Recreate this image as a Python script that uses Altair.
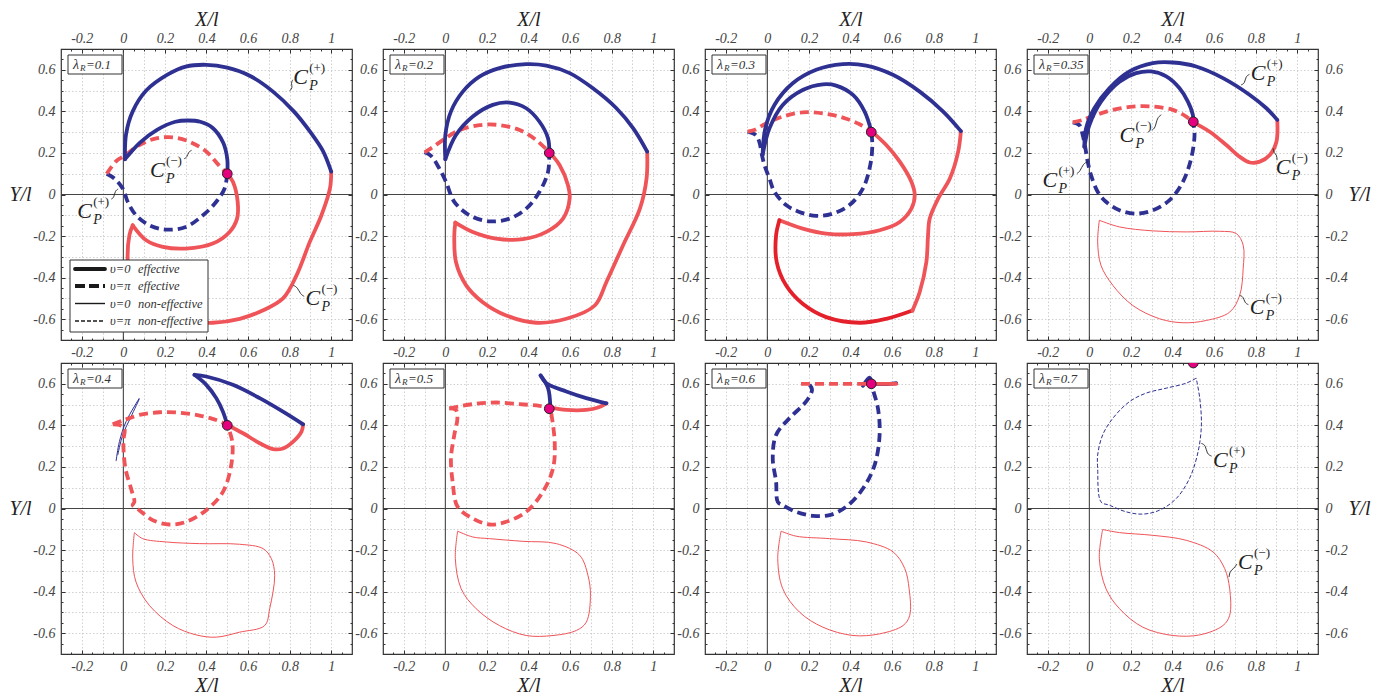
import altair as alt
import pandas as pd

SERIF = "Liberation Serif"
BLUE = "#2e3192"
RED = "#ef5459"
RED_BRIGHT = "#e4202a"
PINK = "#e5007d"
INK = "#222222"

X_DOMAIN = [-0.3, 1.1]
Y_DOMAIN = [-0.7, 0.7]
X_MAJOR = [-0.2, 0.0, 0.2, 0.4, 0.6, 0.8, 1.0]
Y_MAJOR = [-0.6, -0.4, -0.2, 0.0, 0.2, 0.4, 0.6]
X_MINOR = [-0.25, -0.2, -0.15, -0.1, -0.05, 0.0, 0.05, 0.1, 0.15, 0.2, 0.25, 0.3, 0.35, 0.4,
           0.45, 0.5, 0.55, 0.6, 0.65, 0.7, 0.75, 0.8, 0.85, 0.9, 0.95, 1.0, 1.05]
Y_MINOR = [-0.65, -0.6, -0.55, -0.5, -0.45, -0.4, -0.35, -0.3, -0.25, -0.2, -0.15, -0.1, -0.05, 0.0,
           0.05, 0.1, 0.15, 0.2, 0.25, 0.3, 0.35, 0.4, 0.45, 0.5, 0.55, 0.6, 0.65]
X_GRID = [-0.2, -0.1, 0.1, 0.2, 0.3, 0.4, 0.5, 0.6, 0.7, 0.8, 0.9, 1.0]
Y_GRID = [-0.6, -0.5, -0.4, -0.3, -0.2, -0.1, 0.1, 0.2, 0.3, 0.4, 0.5, 0.6]

LAMBDAS = ["0.1", "0.2", "0.3", "0.35", "0.4", "0.5", "0.6", "0.7"]
MARK_X = [0.5, 0.5, 0.5, 0.5, 0.5, 0.5, 0.5, 0.5]
MARK_Y = [0.1, 0.2, 0.3, 0.35, 0.4, 0.48, 0.6, 0.7]

# ---------------- panel 1 (lambda_R = 0.1)
P1_BOUT_X = [0.008, 0.013, 0.045, 0.11, 0.21, 0.30, 0.40, 0.50, 0.61, 0.72, 0.82, 0.90, 0.96, 1.0]
P1_BOUT_Y = [0.17, 0.29, 0.40, 0.50, 0.575, 0.615, 0.624, 0.61, 0.57, 0.495, 0.40, 0.30, 0.21, 0.11]
P1_BIN_X = [0.008, 0.08, 0.16, 0.25, 0.31, 0.37, 0.43, 0.48, 0.50, 0.50]
P1_BIN_Y = [0.17, 0.25, 0.31, 0.35, 0.356, 0.35, 0.32, 0.25, 0.17, 0.10]
P1_RDASH_X = [-0.08, -0.035, 0.005, 0.077, 0.158, 0.238, 0.318, 0.40, 0.46, 0.50]
P1_RDASH_Y = [0.10, 0.16, 0.186, 0.238, 0.27, 0.275, 0.254, 0.206, 0.14, 0.10]
P1_BDASH_X = [-0.08, -0.043, -0.003, 0.021, 0.061, 0.125, 0.206, 0.30, 0.383, 0.447, 0.487, 0.50]
P1_BDASH_Y = [0.10, 0.077, 0.029, -0.035, -0.10, -0.148, -0.169, -0.156, -0.10, -0.035, 0.029, 0.10]
P1_RA_X = [0.50, 0.527, 0.55, 0.547, 0.511, 0.43, 0.30, 0.19, 0.11, 0.045]
P1_RA_Y = [0.10, 0.061, -0.035, -0.116, -0.18, -0.236, -0.26, -0.252, -0.22, -0.148]
P1_RB_X = [0.045, 0.029, 0.021, 0.037, 0.093, 0.206, 0.334, 0.43, 0.56, 0.67, 0.768, 0.833, 0.897, 0.953, 0.994, 1.0]
P1_RB_Y = [-0.148, -0.196, -0.325, -0.437, -0.518, -0.582, -0.614, -0.617, -0.598, -0.558, -0.50, -0.389, -0.228, -0.10, 0.029, 0.11]

# ---------------- panel 2 (0.2)
P2_BOUT_X = [0.0, 0.0, 0.027, 0.084, 0.164, 0.26, 0.389, 0.486, 0.598, 0.71, 0.823, 0.904, 0.971]
P2_BOUT_Y = [0.17, 0.286, 0.40, 0.495, 0.567, 0.608, 0.627, 0.62, 0.584, 0.511, 0.415, 0.318, 0.206]
P2_BIN_X = [0.0, 0.051, 0.132, 0.228, 0.309, 0.389, 0.453, 0.494, 0.50]
P2_BIN_Y = [0.17, 0.286, 0.375, 0.431, 0.442, 0.415, 0.35, 0.27, 0.203]
P2_RDASH_X = [-0.10, -0.069, 0.0, 0.068, 0.164, 0.26, 0.357, 0.437, 0.50]
P2_RDASH_Y = [0.203, 0.222, 0.27, 0.31, 0.334, 0.334, 0.31, 0.262, 0.203]
P2_BDASH_X = [-0.10, -0.069, -0.029, 0.003, 0.043, 0.116, 0.212, 0.309, 0.389, 0.453, 0.494, 0.50]
P2_BDASH_Y = [0.203, 0.186, 0.125, 0.061, -0.035, -0.10, -0.129, -0.116, -0.068, 0.013, 0.109, 0.203]
P2_RA_X = [0.50, 0.55, 0.59, 0.598, 0.566, 0.486, 0.373, 0.244, 0.132, 0.048]
P2_RA_Y = [0.203, 0.141, 0.045, -0.019, -0.116, -0.18, -0.215, -0.212, -0.18, -0.135]
P2_RB_X = [0.048, 0.043, 0.051, 0.10, 0.18, 0.293, 0.437, 0.582, 0.719, 0.775, 0.855, 0.936, 0.968, 0.971]
P2_RB_Y = [-0.135, -0.196, -0.325, -0.437, -0.518, -0.582, -0.617, -0.598, -0.534, -0.421, -0.244, -0.068, 0.077, 0.206]

# ---------------- panel 3 (0.3)
P3_BOUT_X = [-0.023, -0.01, 0.034, 0.122, 0.235, 0.363, 0.476, 0.604, 0.733, 0.846, 0.931]
P3_BOUT_Y = [0.19, 0.318, 0.431, 0.535, 0.60, 0.627, 0.62, 0.576, 0.495, 0.399, 0.305]
P3_BIN_X = [-0.023, 0.01, 0.074, 0.17, 0.267, 0.331, 0.412, 0.468, 0.50]
P3_BIN_Y = [0.19, 0.318, 0.431, 0.503, 0.53, 0.524, 0.479, 0.399, 0.305]
P3_BDASH_X = [-0.095, -0.055, -0.039, -0.026, -0.014, 0.01, 0.034, 0.09, 0.154, 0.235, 0.315, 0.395, 0.46, 0.495, 0.505, 0.50]
P3_BDASH_Y = [0.302, 0.286, 0.254, 0.19, 0.141, 0.077, 0.013, -0.051, -0.084, -0.103, -0.092, -0.051, 0.029, 0.141, 0.238, 0.305]
P3_RDASH_X = [-0.095, -0.063, -0.006, 0.074, 0.17, 0.267, 0.363, 0.444, 0.50]
P3_RDASH_Y = [0.302, 0.31, 0.342, 0.375, 0.395, 0.39, 0.37, 0.338, 0.305]
P3_RA_X = [0.50, 0.572, 0.637, 0.693, 0.709, 0.693, 0.637, 0.54, 0.412, 0.283, 0.17, 0.058]
P3_RA_Y = [0.305, 0.238, 0.158, 0.061, -0.003, -0.068, -0.132, -0.172, -0.191, -0.188, -0.164, -0.124]
P3_RB_X = [0.058, 0.042, 0.045, 0.09, 0.17, 0.283, 0.444, 0.572, 0.698]
P3_RB_Y = [-0.124, -0.196, -0.325, -0.437, -0.526, -0.59, -0.617, -0.598, -0.558]
P3_RC_X = [0.698, 0.733, 0.765, 0.773, 0.781, 0.822, 0.878, 0.918, 0.931]
P3_RC_Y = [-0.558, -0.469, -0.325, -0.196, -0.116, -0.019, 0.077, 0.206, 0.305]

# ---------------- panel 4 (0.35)
P4_BOUT_X = [-0.024, -0.016, 0.024, 0.096, 0.193, 0.305, 0.402, 0.514, 0.643, 0.772, 0.852, 0.904]
P4_BOUT_Y = [0.23, 0.318, 0.415, 0.511, 0.592, 0.632, 0.635, 0.616, 0.56, 0.479, 0.415, 0.359]
P4_BIN_X = [-0.024, 0.0, 0.056, 0.145, 0.225, 0.297, 0.37, 0.434, 0.474, 0.498, 0.50]
P4_BIN_Y = [0.23, 0.334, 0.447, 0.543, 0.584, 0.592, 0.568, 0.511, 0.447, 0.383, 0.347]
P4_BDASH_X = [-0.08, -0.048, -0.032, -0.019, -0.008, 0.008, 0.04, 0.08, 0.145, 0.225, 0.305, 0.386, 0.45, 0.49, 0.506, 0.50]
P4_BDASH_Y = [0.347, 0.334, 0.286, 0.222, 0.158, 0.093, 0.013, -0.035, -0.076, -0.092, -0.076, -0.027, 0.061, 0.174, 0.286, 0.347]
P4_RDASH_X = [-0.08, -0.032, 0.032, 0.113, 0.209, 0.305, 0.402, 0.466, 0.50]
P4_RDASH_Y = [0.347, 0.359, 0.383, 0.407, 0.423, 0.423, 0.407, 0.375, 0.347]
P4_RSOL_X = [0.50, 0.579, 0.659, 0.723, 0.772, 0.82, 0.868, 0.90, 0.904]
P4_RSOL_Y = [0.347, 0.302, 0.238, 0.182, 0.154, 0.158, 0.19, 0.254, 0.359]
P4_RTHIN_X = [0.048, 0.04, 0.056, 0.113, 0.209, 0.338, 0.45, 0.563, 0.675, 0.723, 0.74, 0.74, 0.707, 0.627, 0.466, 0.305, 0.145, 0.048]
P4_RTHIN_Y = [-0.124, -0.228, -0.341, -0.437, -0.534, -0.598, -0.617, -0.606, -0.566, -0.486, -0.357, -0.244, -0.188, -0.177, -0.18, -0.175, -0.156, -0.124]

# ---------------- panel 5 (0.4)
P5_BA_X = [0.342, 0.399, 0.527, 0.656, 0.768, 0.865]
P5_BA_Y = [0.643, 0.635, 0.595, 0.531, 0.466, 0.405]
P5_BB_X = [0.342, 0.399, 0.447, 0.479, 0.50]
P5_BB_Y = [0.643, 0.595, 0.531, 0.466, 0.402]
P5_RSOL_X = [0.50, 0.576, 0.656, 0.72, 0.768, 0.817, 0.857, 0.865]
P5_RSOL_Y = [0.402, 0.362, 0.314, 0.286, 0.289, 0.322, 0.37, 0.405]
P5_RDA_X = [-0.051, -0.019, 0.005, 0.0, 0.01, 0.037, 0.053, 0.045, 0.077, 0.141, 0.222, 0.302, 0.399, 0.479, 0.519, 0.524, 0.50]
P5_RDA_Y = [0.405, 0.402, 0.386, 0.322, 0.193, 0.096, 0.032, 0.016, -0.008, -0.056, -0.077, -0.064, -0.008, 0.08, 0.209, 0.322, 0.402]
P5_RDB_X = [-0.051, 0.005, 0.077, 0.174, 0.27, 0.367, 0.447, 0.50]
P5_RDB_Y = [0.405, 0.426, 0.45, 0.463, 0.461, 0.447, 0.426, 0.402]
P5_BT1_X = [-0.035, -0.019, 0.013, 0.077]
P5_BT1_Y = [0.228, 0.322, 0.418, 0.531]
P5_BT2_X = [-0.027, -0.003, 0.037, 0.077]
P5_BT2_Y = [0.257, 0.354, 0.442, 0.527]
P5_RTHIN_X = [0.053, 0.045, 0.061, 0.125, 0.238, 0.35, 0.447, 0.559, 0.68, 0.704, 0.728, 0.712, 0.672, 0.559, 0.367, 0.206, 0.093, 0.053]
P5_RTHIN_Y = [-0.116, -0.241, -0.354, -0.466, -0.563, -0.608, -0.619, -0.595, -0.563, -0.482, -0.322, -0.241, -0.193, -0.172, -0.169, -0.161, -0.145, -0.116]

# ---------------- panel 6 (0.5)
P6_BA_X = [0.458, 0.494, 0.505]
P6_BA_Y = [0.64, 0.579, 0.486]
P6_BB_X = [0.458, 0.486, 0.582, 0.678, 0.775]
P6_BB_Y = [0.64, 0.603, 0.563, 0.531, 0.506]
P6_RSOL_X = [0.505, 0.582, 0.678, 0.735, 0.775]
P6_RSOL_Y = [0.486, 0.474, 0.474, 0.486, 0.506]
P6_RDA_X = [0.019, 0.051, 0.058, 0.043, 0.027, 0.035, 0.059, 0.132, 0.212, 0.293, 0.389, 0.469, 0.518, 0.526, 0.505]
P6_RDA_Y = [0.482, 0.474, 0.434, 0.354, 0.241, 0.129, 0.008, -0.048, -0.077, -0.064, -0.016, 0.08, 0.193, 0.322, 0.486]
P6_RDB_X = [0.019, 0.132, 0.244, 0.357, 0.453, 0.505]
P6_RDB_Y = [0.482, 0.502, 0.51, 0.502, 0.494, 0.486]
P6_RTHIN_X = [0.059, 0.048, 0.076, 0.148, 0.26, 0.389, 0.518, 0.63, 0.678, 0.698, 0.686, 0.646, 0.534, 0.373, 0.212, 0.132, 0.059]
P6_RTHIN_Y = [-0.109, -0.241, -0.386, -0.482, -0.563, -0.611, -0.611, -0.587, -0.547, -0.418, -0.322, -0.225, -0.169, -0.158, -0.145, -0.137, -0.109]

# ---------------- panel 7 (0.6)
P7_RDASH_X = [0.162, 0.32, 0.476]
P7_RDASH_Y = [0.60, 0.60, 0.60]
P7_BSOL_X = [0.46, 0.492, 0.508, 0.62]
P7_BSOL_Y = [0.59, 0.63, 0.603, 0.603]
P7_RSOL_X = [0.476, 0.55, 0.62]
P7_RSOL_Y = [0.60, 0.60, 0.60]
P7_BDASH_X = [0.203, 0.215, 0.186, 0.106, 0.042, 0.026, 0.042, 0.05, 0.074, 0.138, 0.219, 0.299, 0.379, 0.46, 0.516, 0.54, 0.532, 0.508, 0.50]
P7_BDASH_Y = [0.595, 0.571, 0.514, 0.434, 0.354, 0.241, 0.129, 0.032, 0.016, -0.016, -0.035, -0.032, 0.008, 0.096, 0.209, 0.354, 0.482, 0.571, 0.60]
P7_RTHIN_X = [0.066, 0.05, 0.074, 0.154, 0.267, 0.412, 0.54, 0.653, 0.685, 0.682, 0.661, 0.605, 0.476, 0.299, 0.138, 0.066]
P7_RTHIN_Y = [-0.109, -0.241, -0.386, -0.498, -0.571, -0.611, -0.603, -0.563, -0.514, -0.386, -0.289, -0.209, -0.161, -0.145, -0.133, -0.109]

# ---------------- panel 8 (0.7)
P8_BTD_X = [0.514, 0.466, 0.37, 0.273, 0.193, 0.113, 0.064, 0.04, 0.04, 0.056, 0.096, 0.177, 0.257, 0.338, 0.418, 0.482, 0.523, 0.539, 0.531, 0.514]
P8_BTD_Y = [0.627, 0.603, 0.579, 0.555, 0.514, 0.434, 0.354, 0.257, 0.193, 0.032, 0.016, -0.016, -0.027, -0.008, 0.048, 0.145, 0.273, 0.402, 0.531, 0.627]
P8_RTHIN_X = [0.064, 0.048, 0.08, 0.145, 0.257, 0.402, 0.531, 0.643, 0.675, 0.675, 0.651, 0.595, 0.466, 0.305, 0.145, 0.064]
P8_RTHIN_Y = [-0.101, -0.241, -0.386, -0.482, -0.571, -0.611, -0.608, -0.563, -0.514, -0.386, -0.289, -0.209, -0.153, -0.129, -0.116, -0.101]

# ---------------- curve labels (C_P^(+/-)) and leaders
P1_LAB_X = [0.817, 0.128, -0.222, 0.876]
P1_LAB_Y = [0.563, 0.12, -0.08, -0.497]
P1_LAB_S = ["+", "−", "+", "−"]
P1_LEADERS = [
    ([0.800, 0.815, 0.806, 0.815], [0.498, 0.515, 0.535, 0.552]),
    ([0.292, 0.306, 0.313, 0.328], [0.172, 0.178, 0.205, 0.212]),
    ([-0.058, -0.045, -0.040, -0.025], [-0.022, -0.015, 0.018, 0.026]),
    ([0.818, 0.838, 0.852, 0.870], [-0.437, -0.447, -0.480, -0.490]),
]
P4_LAB_X = [0.776, 0.145, -0.226, 0.897, 0.772]
P4_LAB_Y = [0.584, 0.285, 0.07, 0.133, -0.542]
P4_LAB_S = ["+", "−", "+", "−", "−"]
P4_LEADERS = [
    ([0.730, 0.748, 0.752, 0.770], [0.527, 0.535, 0.568, 0.578]),
    ([0.300, 0.317, 0.326, 0.346], [0.310, 0.318, 0.370, 0.383]),
    ([-0.060, -0.045, -0.030, -0.008], [0.101, 0.110, 0.148, 0.158]),
    ([0.884, 0.888, 0.902, 0.903], [0.222, 0.200, 0.190, 0.165]),
    ([0.723, 0.740, 0.748, 0.765], [-0.486, -0.490, -0.522, -0.530]),
]
P8_LAB_X = [0.595, 0.715]
P8_LAB_Y = [0.233, -0.257]
P8_LAB_S = ["+", "−"]
P8_LEADERS = [
    ([0.539, 0.560, 0.565, 0.588], [0.313, 0.305, 0.262, 0.252]),
    ([0.672, 0.676, 0.695, 0.710], [-0.330, -0.300, -0.290, -0.267]),
]

LEGEND_SYMBOLS = ["υ=0", "υ=π", "υ=0", "υ=π"]
LEGEND_WORDS = ["effective", "effective", "non-effective", "non-effective"]
LEGEND_STYLES = ["eff0", "effpi", "non0", "nonpi"]

STYLES = {
    "eff0": dict(strokeWidth=3.8, strokeCap="round"),
    "effpi": dict(strokeWidth=3.8, strokeDash=[9, 5], strokeCap="butt"),
    "non0": dict(strokeWidth=1.0),
    "nonpi": dict(strokeWidth=1.0, strokeDash=[4, 2]),
}

PANELS = [
    dict(curves=[("effpi", BLUE, P1_BDASH_X, P1_BDASH_Y), ("effpi", RED, P1_RDASH_X, P1_RDASH_Y),
                 ("eff0", RED, P1_RA_X, P1_RA_Y), ("eff0", RED, P1_RB_X, P1_RB_Y),
                 ("eff0", BLUE, P1_BOUT_X, P1_BOUT_Y), ("eff0", BLUE, P1_BIN_X, P1_BIN_Y)],
         labels=(P1_LAB_X, P1_LAB_Y, P1_LAB_S), leaders=P1_LEADERS, legend=True),
    dict(curves=[("effpi", BLUE, P2_BDASH_X, P2_BDASH_Y), ("effpi", RED, P2_RDASH_X, P2_RDASH_Y),
                 ("eff0", RED, P2_RA_X, P2_RA_Y), ("eff0", RED, P2_RB_X, P2_RB_Y),
                 ("eff0", BLUE, P2_BOUT_X, P2_BOUT_Y), ("eff0", BLUE, P2_BIN_X, P2_BIN_Y)]),
    dict(curves=[("effpi", BLUE, P3_BDASH_X, P3_BDASH_Y), ("effpi", RED, P3_RDASH_X, P3_RDASH_Y),
                 ("eff0", RED, P3_RA_X, P3_RA_Y), ("eff0", RED_BRIGHT, P3_RB_X, P3_RB_Y),
                 ("eff0", RED, P3_RC_X, P3_RC_Y),
                 ("eff0", BLUE, P3_BOUT_X, P3_BOUT_Y), ("eff0", BLUE, P3_BIN_X, P3_BIN_Y)]),
    dict(curves=[("non0", RED, P4_RTHIN_X, P4_RTHIN_Y),
                 ("effpi", BLUE, P4_BDASH_X, P4_BDASH_Y), ("effpi", RED, P4_RDASH_X, P4_RDASH_Y),
                 ("eff0", RED, P4_RSOL_X, P4_RSOL_Y),
                 ("eff0", BLUE, P4_BOUT_X, P4_BOUT_Y), ("eff0", BLUE, P4_BIN_X, P4_BIN_Y)],
         labels=(P4_LAB_X, P4_LAB_Y, P4_LAB_S), leaders=P4_LEADERS),
    dict(curves=[("non0", RED, P5_RTHIN_X, P5_RTHIN_Y),
                 ("non0", BLUE, P5_BT1_X, P5_BT1_Y), ("non0", BLUE, P5_BT2_X, P5_BT2_Y),
                 ("effpi", RED, P5_RDA_X, P5_RDA_Y), ("effpi", RED, P5_RDB_X, P5_RDB_Y),
                 ("eff0", RED, P5_RSOL_X, P5_RSOL_Y),
                 ("eff0", BLUE, P5_BA_X, P5_BA_Y), ("eff0", BLUE, P5_BB_X, P5_BB_Y)]),
    dict(curves=[("non0", RED, P6_RTHIN_X, P6_RTHIN_Y),
                 ("effpi", RED, P6_RDA_X, P6_RDA_Y), ("effpi", RED, P6_RDB_X, P6_RDB_Y),
                 ("eff0", RED, P6_RSOL_X, P6_RSOL_Y),
                 ("eff0", BLUE, P6_BA_X, P6_BA_Y), ("eff0", BLUE, P6_BB_X, P6_BB_Y)]),
    dict(curves=[("non0", RED, P7_RTHIN_X, P7_RTHIN_Y),
                 ("effpi", BLUE, P7_BDASH_X, P7_BDASH_Y),
                 ("eff0", BLUE, P7_BSOL_X, P7_BSOL_Y),
                 ("effpi", RED, P7_RDASH_X, P7_RDASH_Y), ("eff0", RED, P7_RSOL_X, P7_RSOL_Y)]),
    dict(curves=[("non0", RED, P8_RTHIN_X, P8_RTHIN_Y), ("nonpi", BLUE, P8_BTD_X, P8_BTD_Y)],
         labels=(P8_LAB_X, P8_LAB_Y, P8_LAB_S), leaders=P8_LEADERS),
]

W = 291
H = 291
XS = alt.Scale(domain=X_DOMAIN, nice=False, zero=False)
YS = alt.Scale(domain=Y_DOMAIN, nice=False, zero=False)
LBL = "datum.value < 0 ? '-' + format(-datum.value, '~g') : format(datum.value, '~g')"
ONE = pd.DataFrame({"x": [0.0], "y": [0.0]})


def X(axis=None):
    return alt.X("x:Q", scale=XS, axis=axis)


def Y(axis=None):
    return alt.Y("y:Q", scale=YS, axis=axis)


def grid_axis(orient, values):
    return alt.Axis(orient=orient, values=values, domain=False, ticks=False, labels=False,
                    grid=True, gridColor="#bdbdbd", gridDash=[1.5, 2], gridWidth=0.7, title=None)


def tick_axis(orient, values, size, labels=False, pad=5, title=None, tx=0, ty=0):
    d = dict(orient=orient, values=values, domain=False, grid=False, ticks=True,
             tickSize=size, offset=-size, tickColor="#333333", tickWidth=1,
             labels=labels, labelExpr=LBL, labelFont=SERIF, labelFontStyle="italic",
             labelFontSize=14, labelColor="#444444", labelPadding=pad,
             labelOverlap=False, labelFlush=False, title=title)
    if title:
        d.update(titleFont=SERIF, titleFontStyle="italic", titleFontSize=20,
                 titleFontWeight="normal", titleColor=INK, titleAngle=0,
                 titleAlign="center", titleBaseline="middle", titleX=tx, titleY=ty)
    return alt.Axis(**d)


def axis_layer(xa, ya):
    return alt.Chart(ONE).mark_point(opacity=0).encode(x=X(xa), y=Y(ya))


def line_layer(style, color, xs, ys):
    df = pd.DataFrame({"x": xs, "y": ys, "i": list(range(len(xs)))})
    return alt.Chart(df).mark_line(color=color, clip=True, interpolate="catmull-rom",
                                   **STYLES[style]).encode(x=X(), y=Y(), order="i:Q")


def label_layers(lx, ly, signs):
    df = pd.DataFrame({"x": lx, "y": ly,
                       "sup": ["(+)" if s == "+" else "(−)" for s in signs]})
    base = alt.Chart(df).encode(x=X(), y=Y())
    c = base.mark_text(text="C", font=SERIF, fontStyle="italic", fontSize=22,
                       align="left", baseline="middle", color=INK)
    sup = base.mark_text(font=SERIF, fontSize=13, align="left", baseline="middle",
                         dx=16, dy=-9, color=INK).encode(text="sup:N")
    sub = base.mark_text(text="P", font=SERIF, fontStyle="italic", fontSize=14,
                         align="left", baseline="middle", dx=16, dy=9, color=INK)
    return [c, sup, sub]


def build_panel(k):
    spec = PANELS[k]
    row, col = divmod(k, 4)
    layers = []
    layers.append(axis_layer(grid_axis("bottom", X_GRID), grid_axis("left", Y_GRID)))
    zero = pd.DataFrame({"v": [0.0]})
    layers.append(alt.Chart(zero).mark_rule(color="#444444", strokeWidth=1.1)
                  .encode(x=alt.X("v:Q", scale=XS, axis=None)))
    layers.append(alt.Chart(zero).mark_rule(color="#444444", strokeWidth=1.1)
                  .encode(y=alt.Y("v:Q", scale=YS, axis=None)))
    for style, color, xs, ys in spec["curves"]:
        layers.append(line_layer(style, color, xs, ys))
    pt = pd.DataFrame({"x": [MARK_X[k]], "y": [MARK_Y[k]]})
    layers.append(alt.Chart(pt).mark_point(shape="circle", filled=True, fill=PINK, stroke="#222222",
                                           strokeWidth=1, size=95, opacity=1, clip=True)
                  .encode(x=X(), y=Y()))
    if "labels" in spec:
        layers += label_layers(*spec["labels"])
        for lxs, lys in spec["leaders"]:
            df = pd.DataFrame({"x": lxs, "y": lys, "i": list(range(len(lxs)))})
            layers.append(alt.Chart(df).mark_line(color=INK, strokeWidth=0.9, interpolate="basis")
                          .encode(x=X(), y=Y(), order="i:Q"))
    # lambda box
    layers.append(alt.Chart(ONE).mark_rect(fill="white", stroke="#333333", strokeWidth=1)
                  .encode(x=alt.value(7), x2=alt.value(61), y=alt.value(6), y2=alt.value(25)))
    tstyle = dict(font=SERIF, fontStyle="italic", color="#333333", baseline="middle")
    layers.append(alt.Chart(ONE).mark_text(text="λ", fontSize=14, align="left", **tstyle)
                  .encode(x=alt.value(12), y=alt.value(15.5)))
    layers.append(alt.Chart(ONE).mark_text(text="R", fontSize=9, align="left", **tstyle)
                  .encode(x=alt.value(19), y=alt.value(19)))
    layers.append(alt.Chart(ONE).mark_text(text="=" + LAMBDAS[k], fontSize=13, align="left", **tstyle)
                  .encode(x=alt.value(25), y=alt.value(15.5)))
    if spec.get("legend"):
        layers.append(alt.Chart(ONE).mark_rect(fill="white", stroke="#333333", strokeWidth=1)
                      .encode(x=alt.value(9), x2=alt.value(147), y=alt.value(211), y2=alt.value(283)))
        rows_y = [220, 237, 254.5, 272]
        for sym, word, st, yy in zip(LEGEND_SYMBOLS, LEGEND_WORDS, LEGEND_STYLES, rows_y):
            sp = dict(STYLES[st])
            if st == "effpi":
                sp["strokeDash"] = [10, 4]
            if st.startswith("non"):
                sp["strokeWidth"] = 1.4
            layers.append(alt.Chart(ONE).mark_rule(color="#1a1a1a", **sp)
                          .encode(x=alt.value(14), x2=alt.value(44), y=alt.value(yy)))
            layers.append(alt.Chart(ONE).mark_text(text=sym, fontSize=12.5, align="left", **tstyle)
                          .encode(x=alt.value(49), y=alt.value(yy)))
            layers.append(alt.Chart(ONE).mark_text(text=word, fontSize=12.5, align="left", **tstyle)
                          .encode(x=alt.value(77), y=alt.value(yy)))
    # axes: ticks (inward) + labels
    if row == 0:
        xa_major = tick_axis("top", X_MAJOR, 4, labels=True, pad=4, title="X/l", tx=W / 2, ty=-33.5)
        xa_minor = tick_axis("top", X_MINOR, 2)
        xb_major = tick_axis("bottom", X_MAJOR, 4, labels=True, pad=5)
        xb_minor = tick_axis("bottom", X_MINOR, 2)
    else:
        xa_major = tick_axis("bottom", X_MAJOR, 4, labels=True, pad=5, title="X/l", tx=W / 2, ty=35.5)
        xa_minor = tick_axis("bottom", X_MINOR, 2)
        xb_major = tick_axis("top", X_MAJOR, 4)
        xb_minor = tick_axis("top", X_MINOR, 2)
    if col == 0:
        yl_major = tick_axis("left", Y_MAJOR, 4, labels=True, pad=6, title="Y/l", tx=-45, ty=H / 2)
    else:
        yl_major = tick_axis("left", Y_MAJOR, 4, labels=True, pad=6)
    yl_minor = tick_axis("left", Y_MINOR, 2)
    if col == 3:
        yr_major = tick_axis("right", Y_MAJOR, 4, labels=True, pad=7, title="Y/l", tx=45, ty=H / 2)
    else:
        yr_major = tick_axis("right", Y_MAJOR, 4)
    yr_minor = tick_axis("right", Y_MINOR, 2)
    layers.append(axis_layer(xa_major, yl_major))
    layers.append(axis_layer(xa_minor, yl_minor))
    layers.append(axis_layer(xb_major, yr_major))
    layers.append(axis_layer(xb_minor, yr_minor))
    return (alt.layer(*layers)
            .resolve_axis(x="independent", y="independent")
            .properties(width=W, height=H))


panels = [build_panel(k) for k in range(8)]
chart = (alt.ConcatChart(concat=panels, columns=4, spacing={"row": 23, "column": 31}, bounds="flush")
         .configure_view(stroke="#333333", strokeWidth=1.2)
         .properties(padding={"left": 0, "top": 0, "right": 4, "bottom": 0}, background="white"))

chart.save("out.html", embed_options={"renderer": "svg", "actions": False})
